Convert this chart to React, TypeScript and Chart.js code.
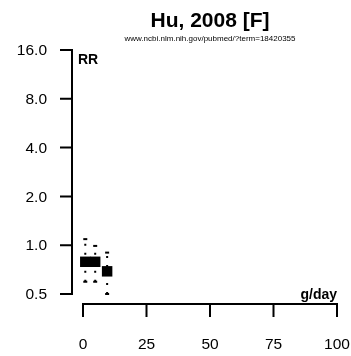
import React, { useEffect, useRef } from "react";
import { Chart, registerables } from "chart.js";

Chart.register(...registerables);

const doses = [0.9, 4.8, 9.5];
const rr = [0.79, 0.79, 0.69];
const lower = [0.595, 0.595, 0.5];
const upper = [1.09, 0.99, 0.9];
const yTicks = [0.5, 1, 2, 4, 8, 16];
const yTickLabels = ["0.5", "1.0", "2.0", "4.0", "8.0", "16.0"];
const xTicks = [0, 25, 50, 75, 100];
const xTickLabels = ["0", "25", "50", "75", "100"];
const titleText = "Hu, 2008 [F]";
const subtitleText = "www.ncbi.nlm.nih.gov/pubmed/?term=18420355";
const yLabel = "RR";
const xLabel = "g/day";

const FONT = '"Liberation Sans", Arial, Helvetica, sans-serif';

const axesPlugin = {
  id: "rAxes",
  afterDraw(chart: any) {
    const ctx = chart.ctx as CanvasRenderingContext2D;
    const xs = chart.scales.x;
    const ys = chart.scales.y;
    const area = chart.chartArea;
    ctx.save();
    ctx.strokeStyle = "#000";
    ctx.fillStyle = "#000";
    ctx.lineWidth = 2;
    ctx.lineCap = "butt";

    // Y axis
    const yAxisX = area.left - 11;
    const yTop = ys.getPixelForValue(yTicks[yTicks.length - 1]);
    const yBot = ys.getPixelForValue(yTicks[0]);
    ctx.beginPath();
    ctx.moveTo(yAxisX, yTop);
    ctx.lineTo(yAxisX, yBot);
    yTicks.forEach((v) => {
      const p = ys.getPixelForValue(v);
      ctx.moveTo(yAxisX + 1, p);
      ctx.lineTo(yAxisX - 12, p);
    });
    ctx.stroke();
    ctx.font = `15.5px ${FONT}`;
    ctx.textAlign = "right";
    ctx.textBaseline = "middle";
    yTicks.forEach((v, i) => {
      ctx.fillText(yTickLabels[i], yAxisX - 25, ys.getPixelForValue(v) + 1);
    });

    // X axis
    const xAxisY = area.bottom + 10;
    const xL = xs.getPixelForValue(xTicks[0]);
    const xR = xs.getPixelForValue(xTicks[xTicks.length - 1]);
    ctx.beginPath();
    ctx.moveTo(xL, xAxisY);
    ctx.lineTo(xR, xAxisY);
    xTicks.forEach((v) => {
      const p = xs.getPixelForValue(v);
      ctx.moveTo(p, xAxisY - 1);
      ctx.lineTo(p, xAxisY + 13);
    });
    ctx.stroke();
    ctx.textAlign = "center";
    ctx.textBaseline = "middle";
    xTicks.forEach((v, i) => {
      ctx.fillText(xTickLabels[i], xs.getPixelForValue(v), xAxisY + 41);
    });

    // Labels
    ctx.font = `bold 14px ${FONT}`;
    ctx.textAlign = "left";
    ctx.textBaseline = "middle";
    ctx.fillText(yLabel, area.left - 5, area.top + 10);
    ctx.textAlign = "right";
    ctx.fillText(xLabel, area.right, area.bottom + 1);

    // Titles
    const cx = (area.left + area.right) / 2;
    ctx.textAlign = "center";
    ctx.font = `bold 21px ${FONT}`;
    ctx.fillText(titleText, cx, 21);
    ctx.font = `8px ${FONT}`;
    ctx.fillText(subtitleText, cx, 39);
    ctx.restore();
  },
};

export default function App() {
  const ref = useRef<HTMLCanvasElement>(null);
  useEffect(() => {
    if (!ref.current) return;
    const ciSets = doses.map((d, i) => ({
      type: "scatter" as const,
      data: [
        { x: d, y: lower[i] },
        { x: d, y: upper[i] },
      ],
      showLine: true,
      borderColor: "#000",
      borderWidth: 2,
      borderDash: [2, 7],
      pointStyle: "line" as const,
      pointRadius: 2,
      pointBorderWidth: 2,
      pointBorderColor: "#000",
      pointBackgroundColor: "#000",
      clip: false as any,
      order: 2,
    }));
    const chart = new Chart(ref.current, {
      type: "scatter",
      data: {
        datasets: [
          {
            data: doses.map((d, i) => ({ x: d, y: rr[i] })),
            pointStyle: "rect",
            pointRadius: 7.4,
            pointBorderWidth: 0,
            pointBackgroundColor: "#000",
            pointBorderColor: "#000",
            showLine: false,
            clip: false as any,
            order: 1,
          } as any,
          ...ciSets,
        ],
      },
      options: {
        animation: false,
        responsive: false,
        events: [],
        layout: { padding: { left: 83, right: 14, top: 50, bottom: 62 } },
        scales: {
          x: { type: "linear", min: 0, max: 100, display: false },
          y: { type: "logarithmic", min: 0.5, max: 16, display: false },
        },
        plugins: { legend: { display: false }, tooltip: { enabled: false }, title: { display: false } },
      },
      plugins: [axesPlugin],
    });
    return () => chart.destroy();
  }, []);
  return (
    <div style={{ position: "absolute", left: 0, top: 0, width: 351, height: 356, background: "#fff" }}>
      <canvas ref={ref} width={351} height={356} style={{ width: 351, height: 356 }} />
    </div>
  );
}
